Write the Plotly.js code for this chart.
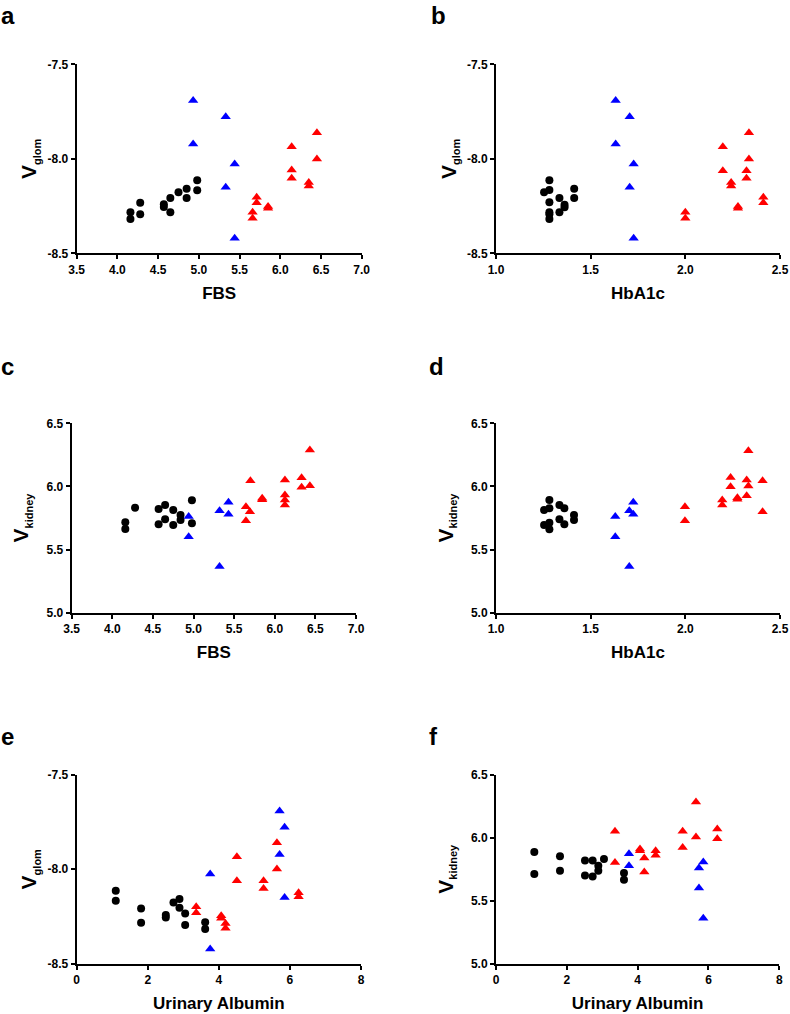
<!DOCTYPE html>
<html>
<head>
<meta charset="utf-8">
<script src="https://cdn.plot.ly/plotly-3.0.1.min.js"></script>
<style>html,body{margin:0;padding:0;background:#fff;}#chart{width:790px;height:1014px;}</style>
</head>
<body>
<div id="chart"></div>
<script>
// ---- Panel a: FBS vs V_glom ----
const aBlackX = [4.16,4.16,4.28,4.28,4.57,4.57,4.65,4.65,4.75,4.85,4.85,4.98,4.98];
const aBlackY = [-8.283,-8.318,-8.232,-8.294,-8.241,-8.255,-8.207,-8.283,-8.177,-8.158,-8.207,-8.114,-8.167];
const aBlueX = [4.93,4.93,5.33,5.33,5.44,5.44];
const aBlueY = [-7.692,-7.922,-7.777,-8.151,-8.027,-8.421];
const aRedX = [6.45,6.45,6.14,6.14,6.14,6.35,6.35,5.71,5.71,5.66,5.66,5.85,5.85];
const aRedY = [-7.862,-8.001,-7.936,-8.059,-8.103,-8.126,-8.144,-8.204,-8.232,-8.283,-8.315,-8.253,-8.262];

// ---- Panel b: HbA1c vs V_glom ----
const bBlackX = [1.254,1.282,1.282,1.282,1.282,1.282,1.282,1.335,1.335,1.362,1.362,1.413,1.413];
const bBlackY = [-8.177,-8.114,-8.165,-8.230,-8.283,-8.294,-8.318,-8.207,-8.283,-8.243,-8.257,-8.158,-8.207];
const bBlueX = [1.632,1.632,1.706,1.706,1.727,1.727];
const bBlueY = [-7.692,-7.922,-7.777,-8.151,-8.027,-8.421];
const bRedX = [2.198,2.198,2.336,2.336,2.323,2.323,2.242,2.242,2.278,2.278,2.412,2.412,2.0,2.0];
const bRedY = [-7.936,-8.063,-7.862,-8.001,-8.063,-8.103,-8.126,-8.144,-8.253,-8.262,-8.204,-8.232,-8.283,-8.315];

// ---- Panel c: FBS vs V_kidney ----
const cBlackX = [4.16,4.16,4.28,4.57,4.57,4.65,4.65,4.75,4.75,4.84,4.84,4.98,4.98];
const cBlackY = [5.716,5.663,5.832,5.821,5.700,5.853,5.740,5.813,5.695,5.774,5.734,5.890,5.708];
const cBlueX = [4.94,4.94,5.32,5.32,5.43,5.43];
const cBlueY = [5.761,5.602,5.808,5.365,5.874,5.779];
const cRedX = [5.70,5.645,5.645,5.694,5.845,5.845,6.125,6.125,6.125,6.125,6.33,6.33,6.432,6.432];
const cRedY = [6.046,5.840,5.729,5.800,5.906,5.895,6.051,5.932,5.893,5.853,6.069,5.993,6.289,6.006];

// ---- Panel d: HbA1c vs V_kidney ----
const dBlackX = [1.254,1.282,1.282,1.254,1.282,1.282,1.335,1.361,1.335,1.361,1.412,1.412];
const dBlackY = [5.813,5.893,5.827,5.695,5.713,5.660,5.853,5.827,5.740,5.700,5.774,5.734];
const dBlueX = [1.630,1.630,1.704,1.704,1.725,1.725];
const dBlueY = [5.761,5.602,5.808,5.365,5.874,5.779];
const dRedX = [1.998,1.998,2.195,2.195,2.239,2.239,2.275,2.275,2.324,2.324,2.333,2.333,2.408,2.408];
const dRedY = [5.840,5.729,5.893,5.853,6.070,5.998,5.911,5.898,6.051,5.927,6.283,6.004,6.046,5.800];

// ---- Panel e: Urinary Albumin vs V_glom ----
const eBlackX = [1.099,1.099,1.812,1.812,2.507,2.507,2.723,2.892,2.892,3.052,3.052,3.615,3.615];
const eBlackY = [-8.113,-8.166,-8.207,-8.282,-8.242,-8.254,-8.175,-8.157,-8.203,-8.233,-8.294,-8.280,-8.315];
const eBlueX = [3.756,3.756,5.709,5.709,5.850,5.850];
const eBlueY = [-8.025,-8.421,-7.692,-7.922,-7.779,-8.149];
const eRedX = [3.362,3.362,4.066,4.066,4.188,4.188,4.507,4.507,5.258,5.258,5.634,5.634,6.244,6.244];
const eRedY = [-8.198,-8.229,-8.245,-8.259,-8.286,-8.312,-7.934,-8.061,-8.061,-8.101,-7.860,-7.999,-8.124,-8.145];

// ---- Panel f: Urinary Albumin vs V_kidney ----
const fBlackX = [1.082,1.082,1.807,1.807,2.513,2.513,2.729,2.729,2.889,2.889,3.049,3.614,3.614];
const fBlackY = [5.886,5.712,5.852,5.738,5.820,5.701,5.820,5.693,5.778,5.738,5.831,5.720,5.667];
const fBlueX = [3.755,3.755,5.732,5.732,5.854,5.854];
const fBlueY = [5.873,5.778,5.759,5.601,5.807,5.362];
const fRedX = [3.360,3.360,4.066,4.066,4.188,4.188,4.508,4.508,5.271,5.271,5.647,5.647,6.249,6.249];
const fRedY = [6.050,5.804,5.910,5.897,5.839,5.728,5.897,5.860,6.050,5.923,6.283,6.005,6.069,5.992];

// ---- Tick values / labels ----
const glomTickVals = [-8.5, -8.0, -7.5];
const glomTickText = ['-8.5', '-8.0', '-7.5'];
const kidneyTickVals = [5.0, 5.5, 6.0, 6.5];
const kidneyTickText = ['5.0', '5.5', '6.0', '6.5'];
const fbsTickVals = [3.5, 4.0, 4.5, 5.0, 5.5, 6.0, 6.5, 7.0];
const fbsTickText = ['3.5', '4.0', '4.5', '5.0', '5.5', '6.0', '6.5', '7.0'];
const hba1cTickVals = [1.0, 1.5, 2.0, 2.5];
const hba1cTickText = ['1.0', '1.5', '2.0', '2.5'];
const uaTickVals = [0, 2, 4, 6, 8];
const uaTickText = ['0', '2', '4', '6', '8'];

const panelLetters = ['a','b','c','d','e','f'];
const xTitles = ['FBS','HbA1c','FBS','HbA1c','Urinary Albumin','Urinary Albumin'];
const yTitles = ['glom','glom','kidney','kidney','glom','kidney'];

const FONT = 'Liberation Sans, Arial, Helvetica, sans-serif';
const W = 790, H = 1014;

const panels = [
  [aBlackX,aBlackY,aBlueX,aBlueY,aRedX,aRedY],
  [bBlackX,bBlackY,bBlueX,bBlueY,bRedX,bRedY],
  [cBlackX,cBlackY,cBlueX,cBlueY,cRedX,cRedY],
  [dBlackX,dBlackY,dBlueX,dBlueY,dRedX,dRedY],
  [eBlackX,eBlackY,eBlueX,eBlueY,eRedX,eRedY],
  [fBlackX,fBlackY,fBlueX,fBlueY,fRedX,fRedY]
];

// pixel geometry of each plot area [left, right, top, bottom]
const boxes = [
  [76.7, 361.7, 64.3, 253.3],
  [496, 780, 64.3, 253.3],
  [71.7, 356, 423.3, 612.7],
  [496, 780, 423.3, 612.7],
  [76.7, 361, 774.5, 964],
  [496, 779.3, 774.5, 964]
];
const xRanges = [[3.5,7],[1,2.5],[3.5,7],[1,2.5],[0,8],[0,8]];
const yRanges = [[-8.5,-7.5],[-8.5,-7.5],[5,6.5],[5,6.5],[-8.5,-7.5],[5,6.5]];
const xTicks = [[fbsTickVals,fbsTickText],[hba1cTickVals,hba1cTickText],[fbsTickVals,fbsTickText],
                [hba1cTickVals,hba1cTickText],[uaTickVals,uaTickText],[uaTickVals,uaTickText]];
const yTicks = [[glomTickVals,glomTickText],[glomTickVals,glomTickText],[kidneyTickVals,kidneyTickText],
                [kidneyTickVals,kidneyTickText],[glomTickVals,glomTickText],[kidneyTickVals,kidneyTickText]];
const yStandoff = [5,5,12,12,5,12];

const traces = [];
const layout = {
  width: W, height: H,
  margin: {l:0, r:0, t:0, b:0},
  paper_bgcolor: '#fff', plot_bgcolor: '#fff',
  showlegend: false,
  font: {family: FONT, color: '#000'},
  annotations: []
};

panels.forEach((p, i) => {
  const n = i === 0 ? '' : String(i + 1);
  const xa = 'x' + n, ya = 'y' + n;
  const groups = [
    {x: p[0], y: p[1], color: '#000000', symbol: 'circle', size: 8},
    {x: p[2], y: p[3], color: '#0000FF', symbol: 'triangle-up', size: 9},
    {x: p[4], y: p[5], color: '#FF0000', symbol: 'triangle-up', size: 9}
  ];
  groups.forEach(g => traces.push({
    type: 'scatter', mode: 'markers', x: g.x, y: g.y, xaxis: xa, yaxis: ya,
    marker: {color: g.color, symbol: g.symbol, size: g.size, line: {width: 0}},
    cliponaxis: false, hoverinfo: 'x+y'
  }));
  const b = boxes[i];
  const common = {
    showline: true, linecolor: '#000', linewidth: 2,
    ticks: 'outside', ticklen: 4, tickwidth: 2, tickcolor: '#000',
    showgrid: false, zeroline: false, fixedrange: true,
    tickmode: 'array',
    tickfont: {family: FONT, size: 12, color: '#000', weight: 'bold'}
  };
  layout['xaxis' + n] = Object.assign({}, common, {
    domain: [b[0] / W, b[1] / W], anchor: ya,
    range: xRanges[i], tickvals: xTicks[i][0], ticktext: xTicks[i][1],
    title: {text: xTitles[i], font: {family: FONT, size: 17, color: '#000', weight: 'bold'}, standoff: 11}
  });
  layout['yaxis' + n] = Object.assign({}, common, {
    domain: [1 - b[3] / H, 1 - b[2] / H], anchor: xa,
    range: yRanges[i], tickvals: yTicks[i][0], ticktext: yTicks[i][1],
    title: {text: 'V<sub><span style="font-size:11px">' + yTitles[i] + '</span></sub>',
            font: {family: FONT, size: 21, color: '#000', weight: 'bold'}, standoff: yStandoff[i]}
  });
  const lx = [0, 430, 0, 428, 0, 428][i];
  const ly = [1, 1, 352, 352, 722, 722][i];
  layout.annotations.push({
    text: panelLetters[i], xref: 'paper', yref: 'paper',
    x: lx / W, y: 1 - ly / H, xanchor: 'left', yanchor: 'top', borderpad: 0,
    showarrow: false, font: {family: FONT, size: 24, color: '#000', weight: 'bold'}
  });
});

Plotly.newPlot('chart', traces, layout, {staticPlot: true, displayModeBar: false});
</script>
</body>
</html>
